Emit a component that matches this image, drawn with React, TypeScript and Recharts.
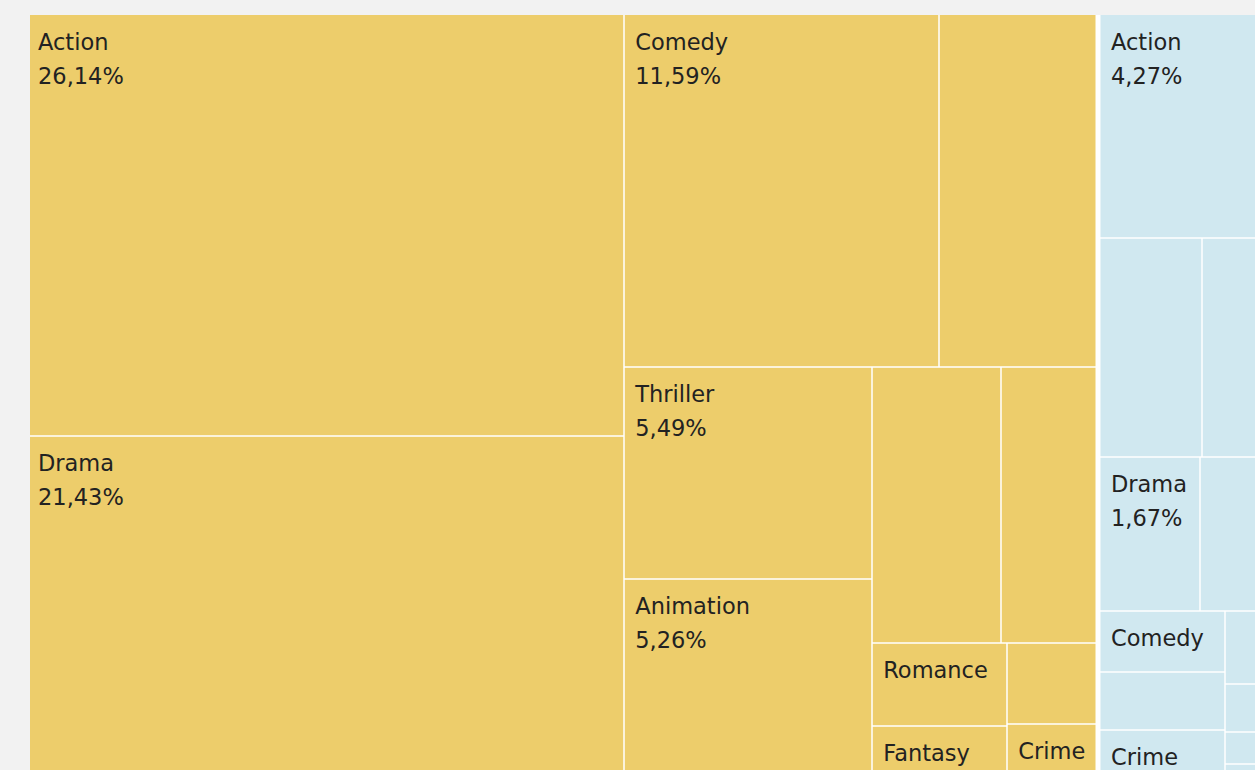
import { Treemap } from "recharts";

// two top-level groups, genre shares in % of the whole
const groupColors = ["#EDCD6B", "#D0E8F0"];

const yellowGenres = ["Action", "Drama", "Comedy", "", "Thriller", "Animation", "", "", "Romance", "Fantasy", "", "Crime"];
const yellowShares = [26.14, 21.43, 11.59, 5.78, 5.49, 5.26, 3.73, 2.72, 1.17, 0.77, 0.75, 0.51];

const blueGenres = ["Action", "", "", "Drama", "", "Comedy", "", "Crime", "", "", "", ""];
const blueShares = [4.27, 2.43, 1.76, 1.67, 1.28, 0.82, 0.78, 0.69, 0.41, 0.27, 0.18, 0.1];

const WIDTH = 1249;
const HEIGHT = 766;

function buildGroup(genres: string[], shares: number[], color: string) {
  return {
    name: "",
    color,
    children: genres.map((g, i) => ({ name: g, size: shares[i], color })),
  };
}

const data = [
  buildGroup(yellowGenres, yellowShares, groupColors[0]),
  buildGroup(blueGenres, blueShares, groupColors[1]),
];

const fmt = (v: number) => v.toFixed(2).replace(".", ",") + "%";

function Cell(props: any) {
  const { x, y, width, height, depth, name, size, color, root } = props;
  if (depth === 0) {
    return <rect x={x} y={y} width={width} height={height} fill="#ffffff" />;
  }
  if (depth !== 2) return null;

  const gap = 0.75;
  const near = (a: number, b: number) => Math.abs(a - b) < 0.5;
  const px = root ? root.x : -1;
  const py = root ? root.y : -1;
  const pr = root ? root.x + root.width : -1;
  const pb = root ? root.y + root.height : -1;

  const left = near(x, 0) ? 0 : near(x, px) ? 4.5 : gap;
  const top = near(y, 0) ? 0 : near(y, py) ? 4.5 : gap;
  const right = near(x + width, WIDTH) ? 0 : near(x + width, pr) ? 0.5 : gap;
  const bottom = near(y + height, HEIGHT) ? 0 : near(y + height, pb) ? 0.5 : gap;

  const w = Math.max(0, width - left - right);
  const h = Math.max(0, height - top - bottom);
  const tx = x + left + (left === 0 ? 8 : 10.5);
  const showName = name && h >= 45;
  const showShare = showName && h >= 100;

  return (
    <g>
      <rect x={x + left} y={y + top} width={w} height={h} fill={color} />
      {showName && (
        <text
          x={tx}
          y={y + top + 34.5}
          fill="#222222"
          fontFamily="DejaVu Sans"
          fontSize={22.5}
        >
          {name}
        </text>
      )}
      {showShare && (
        <text
          x={tx}
          y={y + top + 68.5}
          fill="#222222"
          fontFamily="DejaVu Sans"
          fontSize={22.5}
        >
          {fmt(size)}
        </text>
      )}
    </g>
  );
}

export default function App() {
  return (
    <div
      style={{
        position: "fixed",
        left: 0,
        top: 0,
        width: 1255,
        height: 770,
        overflow: "hidden",
        background: "#f2f2f2",
      }}
    >
      <div style={{ position: "absolute", left: 30, top: 15 }}>
        <Treemap
          width={WIDTH}
          height={HEIGHT}
          data={data}
          dataKey="size"
          nameKey="name"
          aspectRatio={1.7}
          isAnimationActive={false}
          content={<Cell />}
        />
      </div>
    </div>
  );
}
